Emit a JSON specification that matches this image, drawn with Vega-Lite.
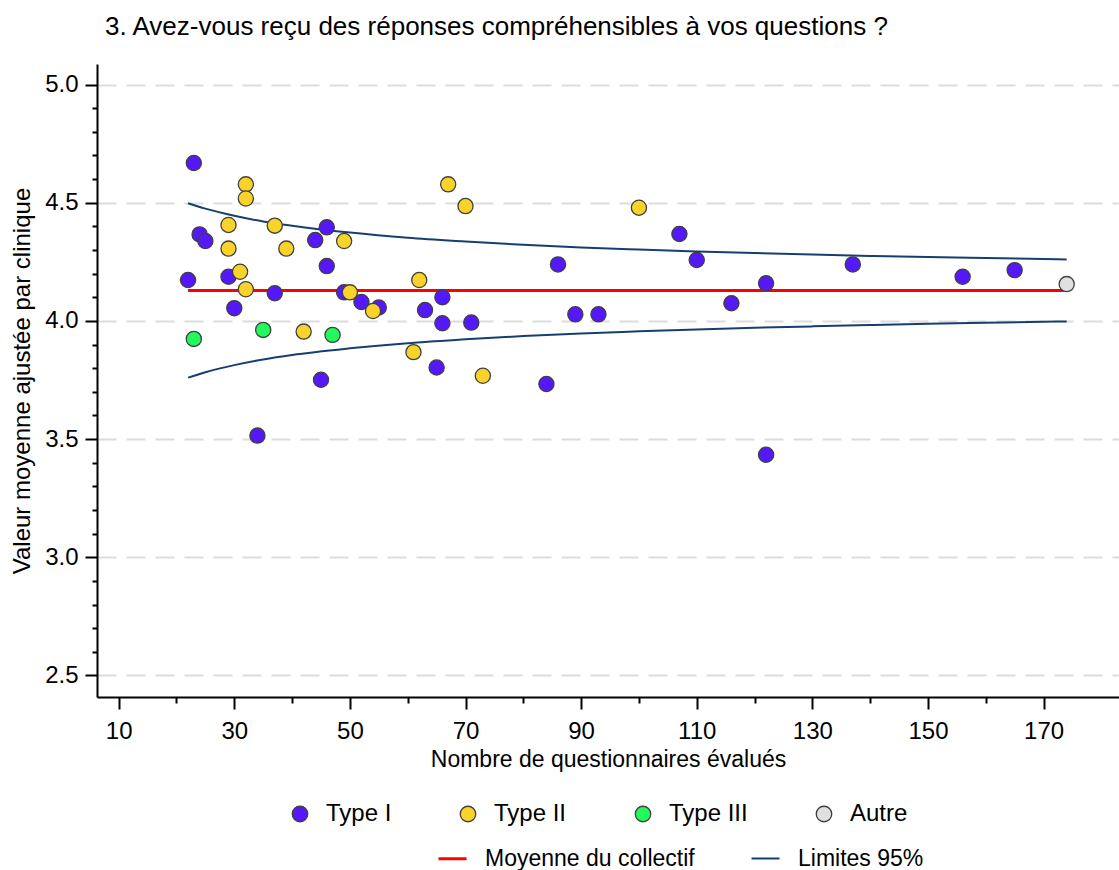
{
  "$schema": "https://vega.github.io/schema/vega-lite/v6.json",
  "width": 1022,
  "height": 633,
  "autosize": {"type": "none"},
  "padding": {"left": 97, "top": 64, "right": 0, "bottom": 173},
  "background": "white",
  "title": {
    "text": "3. Avez-vous reçu des réponses compréhensibles à vos questions ?",
    "anchor": "start",
    "frame": "group",
    "dx": 8,
    "offset": 24,
    "fontSize": 26,
    "fontWeight": "normal",
    "font": "Liberation Sans",
    "color": "black"
  },
  "config": {
    "view": {"stroke": null},
    "font": "Liberation Sans",
    "axis": {
      "domainColor": "black",
      "domainWidth": 2,
      "tickColor": "black",
      "tickWidth": 2,
      "labelColor": "black",
      "labelFont": "Liberation Sans",
      "titleFont": "Liberation Sans",
      "titleColor": "black",
      "titleFontWeight": "normal"
    }
  },
  "resolve": {"scale": {"y": "shared", "x": "shared"}, "axis": {"y": "independent"}},
  "datasets": {
    "points": [
      {"n": 22, "v": 4.173, "type": "Type I"},
      {"n": 23, "v": 4.668, "type": "Type I"},
      {"n": 24, "v": 4.366, "type": "Type I"},
      {"n": 25, "v": 4.338, "type": "Type I"},
      {"n": 29, "v": 4.187, "type": "Type I"},
      {"n": 30, "v": 4.054, "type": "Type I"},
      {"n": 34, "v": 3.515, "type": "Type I"},
      {"n": 37, "v": 4.117, "type": "Type I"},
      {"n": 44, "v": 4.342, "type": "Type I"},
      {"n": 45, "v": 3.751, "type": "Type I"},
      {"n": 46, "v": 4.396, "type": "Type I"},
      {"n": 46, "v": 4.232, "type": "Type I"},
      {"n": 49, "v": 4.121, "type": "Type I"},
      {"n": 52, "v": 4.080, "type": "Type I"},
      {"n": 55, "v": 4.057, "type": "Type I"},
      {"n": 63, "v": 4.046, "type": "Type I"},
      {"n": 65, "v": 3.803, "type": "Type I"},
      {"n": 66, "v": 4.100, "type": "Type I"},
      {"n": 66, "v": 3.990, "type": "Type I"},
      {"n": 71, "v": 3.993, "type": "Type I"},
      {"n": 84, "v": 3.733, "type": "Type I"},
      {"n": 86, "v": 4.239, "type": "Type I"},
      {"n": 89, "v": 4.028, "type": "Type I"},
      {"n": 93, "v": 4.028, "type": "Type I"},
      {"n": 107, "v": 4.368, "type": "Type I"},
      {"n": 110, "v": 4.258, "type": "Type I"},
      {"n": 116, "v": 4.075, "type": "Type I"},
      {"n": 122, "v": 4.159, "type": "Type I"},
      {"n": 122, "v": 3.434, "type": "Type I"},
      {"n": 137, "v": 4.239, "type": "Type I"},
      {"n": 156, "v": 4.187, "type": "Type I"},
      {"n": 165, "v": 4.215, "type": "Type I"},
      {"n": 29, "v": 4.406, "type": "Type II"},
      {"n": 29, "v": 4.306, "type": "Type II"},
      {"n": 31, "v": 4.208, "type": "Type II"},
      {"n": 32, "v": 4.578, "type": "Type II"},
      {"n": 32, "v": 4.518, "type": "Type II"},
      {"n": 32, "v": 4.134, "type": "Type II"},
      {"n": 37, "v": 4.403, "type": "Type II"},
      {"n": 39, "v": 4.306, "type": "Type II"},
      {"n": 42, "v": 3.955, "type": "Type II"},
      {"n": 49, "v": 4.338, "type": "Type II"},
      {"n": 50, "v": 4.121, "type": "Type II"},
      {"n": 54, "v": 4.042, "type": "Type II"},
      {"n": 61, "v": 3.868, "type": "Type II"},
      {"n": 62, "v": 4.173, "type": "Type II"},
      {"n": 67, "v": 4.578, "type": "Type II"},
      {"n": 70, "v": 4.486, "type": "Type II"},
      {"n": 73, "v": 3.768, "type": "Type II"},
      {"n": 100, "v": 4.479, "type": "Type II"},
      {"n": 23, "v": 3.924, "type": "Type III"},
      {"n": 35, "v": 3.962, "type": "Type III"},
      {"n": 47, "v": 3.941, "type": "Type III"},
      {"n": 174, "v": 4.156, "type": "Autre"}
    ],
    "lines": [
      {"n": 22, "v": 4.129, "serie": "Moyenne du collectif", "part": "mean"},
      {"n": 174, "v": 4.129, "serie": "Moyenne du collectif", "part": "mean"},
      {"n": 22, "v": 4.498, "serie": "Limites 95%", "part": "upper"},
      {"n": 25, "v": 4.475, "serie": "Limites 95%", "part": "upper"},
      {"n": 30, "v": 4.445, "serie": "Limites 95%", "part": "upper"},
      {"n": 35, "v": 4.421, "serie": "Limites 95%", "part": "upper"},
      {"n": 40, "v": 4.403, "serie": "Limites 95%", "part": "upper"},
      {"n": 50, "v": 4.374, "serie": "Limites 95%", "part": "upper"},
      {"n": 60, "v": 4.352, "serie": "Limites 95%", "part": "upper"},
      {"n": 70, "v": 4.336, "serie": "Limites 95%", "part": "upper"},
      {"n": 80, "v": 4.322, "serie": "Limites 95%", "part": "upper"},
      {"n": 90, "v": 4.311, "serie": "Limites 95%", "part": "upper"},
      {"n": 100, "v": 4.302, "serie": "Limites 95%", "part": "upper"},
      {"n": 110, "v": 4.294, "serie": "Limites 95%", "part": "upper"},
      {"n": 120, "v": 4.287, "serie": "Limites 95%", "part": "upper"},
      {"n": 130, "v": 4.281, "serie": "Limites 95%", "part": "upper"},
      {"n": 140, "v": 4.275, "serie": "Limites 95%", "part": "upper"},
      {"n": 150, "v": 4.270, "serie": "Limites 95%", "part": "upper"},
      {"n": 160, "v": 4.266, "serie": "Limites 95%", "part": "upper"},
      {"n": 174, "v": 4.260, "serie": "Limites 95%", "part": "upper"},
      {"n": 22, "v": 3.760, "serie": "Limites 95%", "part": "lower"},
      {"n": 25, "v": 3.783, "serie": "Limites 95%", "part": "lower"},
      {"n": 30, "v": 3.813, "serie": "Limites 95%", "part": "lower"},
      {"n": 35, "v": 3.837, "serie": "Limites 95%", "part": "lower"},
      {"n": 40, "v": 3.856, "serie": "Limites 95%", "part": "lower"},
      {"n": 50, "v": 3.884, "serie": "Limites 95%", "part": "lower"},
      {"n": 60, "v": 3.906, "serie": "Limites 95%", "part": "lower"},
      {"n": 70, "v": 3.922, "serie": "Limites 95%", "part": "lower"},
      {"n": 80, "v": 3.936, "serie": "Limites 95%", "part": "lower"},
      {"n": 90, "v": 3.947, "serie": "Limites 95%", "part": "lower"},
      {"n": 100, "v": 3.956, "serie": "Limites 95%", "part": "lower"},
      {"n": 110, "v": 3.964, "serie": "Limites 95%", "part": "lower"},
      {"n": 120, "v": 3.971, "serie": "Limites 95%", "part": "lower"},
      {"n": 130, "v": 3.977, "serie": "Limites 95%", "part": "lower"},
      {"n": 140, "v": 3.983, "serie": "Limites 95%", "part": "lower"},
      {"n": 150, "v": 3.988, "serie": "Limites 95%", "part": "lower"},
      {"n": 160, "v": 3.992, "serie": "Limites 95%", "part": "lower"},
      {"n": 174, "v": 3.998, "serie": "Limites 95%", "part": "lower"}
    ]
  },
  "layer": [
    {
      "data": {"name": "lines"},
      "mark": {"type": "line", "interpolate": "monotone"},
      "encoding": {
        "x": {
          "field": "n", "type": "quantitative",
          "scale": {"domain": [6.25, 183.05], "nice": false, "zero": false},
          "axis": {
            "values": [10, 20, 30, 40, 50, 60, 70, 80, 90, 100, 110, 120, 130, 140, 150, 160, 170],
            "tickSize": {"condition": {"test": "datum.value % 20 == 10", "value": 12}, "value": 6},
            "labelExpr": "datum.value % 20 == 10 ? datum.label : ''",
            "labelFontSize": 24, "labelPadding": 10,
            "grid": false, "labelFlush": false, "labelOverlap": false,
            "title": "Nombre de questionnaires évalués",
            "titleFontSize": 23, "titlePadding": 5
          }
        },
        "y": {
          "field": "v", "type": "quantitative",
          "scale": {"domain": [2.409, 5.087], "nice": false, "zero": false},
          "axis": {
            "orient": "left",
            "values": [2.5, 3, 3.5, 4, 4.5, 5],
            "format": ".1f",
            "tickSize": 12,
            "labelFontSize": 24, "labelPadding": 7,
            "labelFlush": false, "labelOverlap": false,
            "grid": true, "gridColor": "#dcdcdc", "gridWidth": 2, "gridDash": [19, 10],
            "title": "Valeur moyenne ajustée par clinique",
            "titleFontSize": 24, "titlePadding": 10
          }
        },
        "stroke": {
          "field": "serie", "type": "nominal",
          "scale": {"domain": ["Moyenne du collectif", "Limites 95%"], "range": ["#ff0000", "#173f6e"]},
          "legend": {
            "title": null, "orient": "none", "legendX": 340, "legendY": 779,
            "direction": "horizontal", "columns": 2, "columnPadding": 52,
            "symbolType": "stroke", "symbolSize": 784, "symbolStrokeWidth": 2.5,
            "labelFontSize": 23, "labelOffset": 17, "labelColor": "black", "labelLimit": 500,
            "labelFont": "Liberation Sans", "padding": 0
          }
        },
        "strokeWidth": {
          "field": "serie", "type": "nominal",
          "scale": {"domain": ["Moyenne du collectif", "Limites 95%"], "range": [3, 2]},
          "legend": null
        },
        "detail": {"field": "part"}
      }
    },
    {
      "data": {"name": "points"},
      "mark": {"type": "circle", "size": 230, "stroke": "#404040", "strokeWidth": 1.3, "opacity": 1},
      "encoding": {
        "x": {"field": "n", "type": "quantitative"},
        "y": {
          "field": "v", "type": "quantitative",
          "axis": {
            "orient": "left",
            "values": [2.6, 2.7, 2.8, 2.9, 3.1, 3.2, 3.3, 3.4, 3.6, 3.7, 3.8, 3.9, 4.1, 4.2, 4.3, 4.4, 4.6, 4.7, 4.8, 4.9],
            "tickSize": 5, "labels": false, "domain": false, "grid": false, "title": null
          }
        },
        "fill": {
          "field": "type", "type": "nominal",
          "scale": {"domain": ["Type I", "Type II", "Type III", "Autre"], "range": ["#5518fb", "#fad32a", "#22f95c", "#e0e0e0"]},
          "legend": {
            "title": null, "orient": "none", "legendX": 191, "legendY": 738,
            "direction": "horizontal", "columns": 4, "columnPadding": 64,
            "symbolType": "circle", "symbolSize": 240,
            "symbolStrokeColor": "#404040", "symbolStrokeWidth": 1.3,
            "labelFontSize": 24, "labelOffset": 14, "labelColor": "black", "labelLimit": 500,
            "labelFont": "Liberation Sans", "padding": 0
          }
        }
      }
    }
  ]
}
